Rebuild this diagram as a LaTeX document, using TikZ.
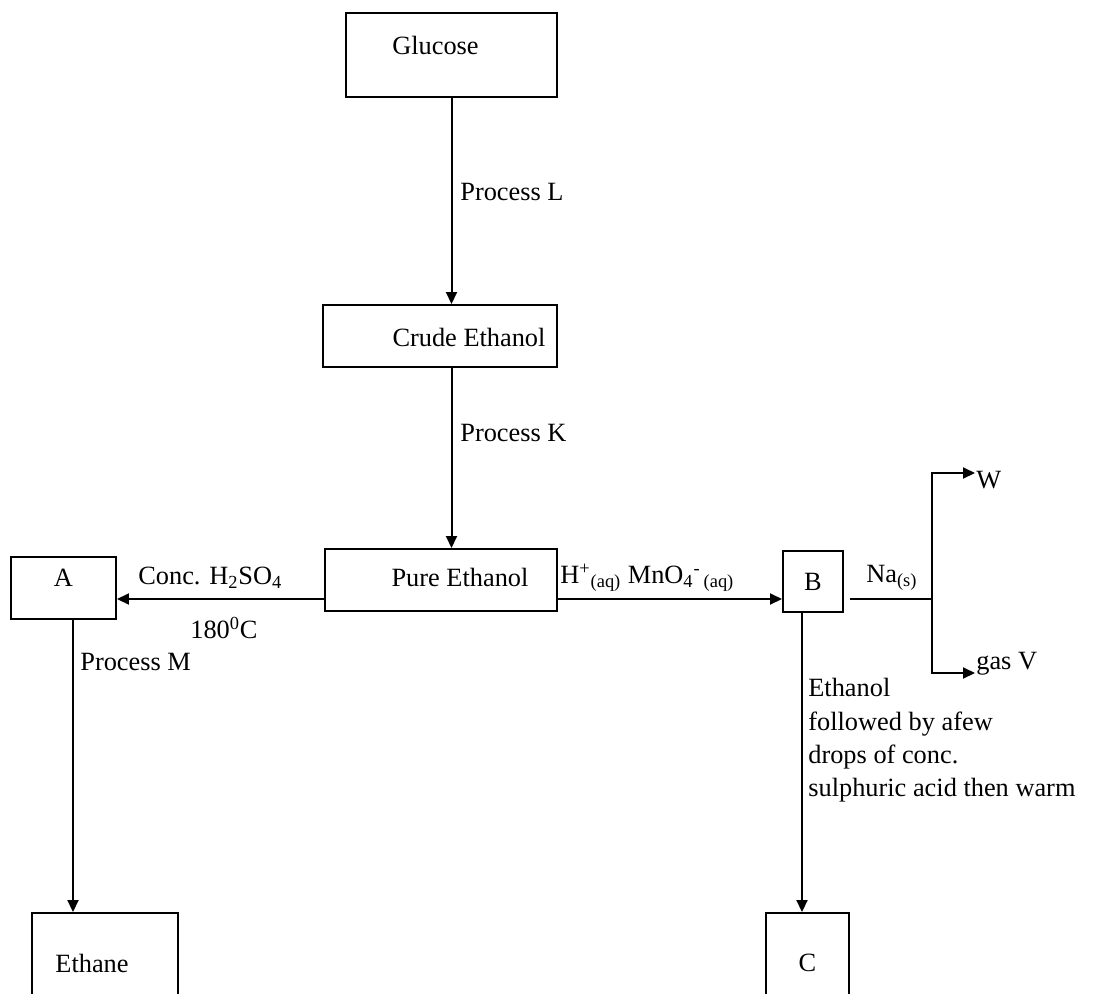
\documentclass[tikz,border=0pt]{standalone}
\usepackage{fontspec}
\setmainfont{Liberation Serif}
\usetikzlibrary{arrows.meta}

\tikzset{
  box/.style={draw, line width=0.04cm, inner sep=0pt},
  flow/.style={line width=0.04cm, -{Triangle[length=0.24cm,width=0.22cm]}},
  plain/.style={line width=0.04cm},
  lbl/.style={anchor=west, inner sep=0pt}
}

\begin{document}
\begin{tikzpicture}[x=0.02cm, y=-0.02cm, font=\fontsize{15}{19}\selectfont]
 \useasboundingbox (0,0) rectangle (1093,994);
 % boxes
 \node[box, minimum width=4.22cm, minimum height=1.68cm,
   label={[xshift=-0.32cm, yshift=0.2cm]center:Glucose}] (glucose) at (451.5,55) {};
 \node[box, minimum width=4.68cm, minimum height=1.24cm,
   label={[xshift=0.58cm, yshift=-0.02cm]center:Crude Ethanol}] (crude) at (440,336) {};
 \node[box, minimum width=4.64cm, minimum height=1.24cm,
   label={[xshift=0.38cm, yshift=0.06cm]center:Pure Ethanol}] (pure) at (441,580) {};
 \node[box, minimum width=2.1cm, minimum height=1.24cm,
   label={[yshift=0.2cm]center:A}] (A) at (63.5,588) {};
 \node[box, minimum width=1.2cm, minimum height=1.22cm] (B) at (813,581.5) {B};
 \node[box, minimum width=2.92cm, minimum height=2cm,
   label={[xshift=-0.26cm]center:Ethane}] (ethane) at (105,963) {};
 \node[box, minimum width=1.66cm, minimum height=2cm] (C) at (807.5,963) {C};
 % helper coordinates
 \coordinate (lvl) at (0,599);
 \coordinate (acol) at (73,0);
 \coordinate (bcol) at (802,0);
 \coordinate (nastart) at (850,599);
 \coordinate (fork) at (932,599);
 \coordinate (wtip) at (975,473);
 \coordinate (vtip) at (975,673);
 % arrows
 \draw[flow] (glucose.south) -- (glucose.south |- crude.north);
 \draw[flow] (glucose.south |- crude.south) -- (glucose.south |- pure.north);
 \draw[flow] (pure.west |- lvl) -- (A.east |- lvl);
 \draw[flow] (pure.east |- lvl) -- (B.west |- lvl);
 \draw[plain] (nastart) -- (fork);
 \draw[flow] (fork) |- (wtip);
 \draw[flow] (fork) |- (vtip);
 \draw[flow] (A.south -| acol) -- (ethane.north -| acol);
 \draw[flow] (B.south -| bcol) -- (C.north -| bcol);
 % labels
 \node[lbl] (procL) at (460,192) {Process L};
 \node[lbl] (procK) at (460,433) {Process K};
 \node[lbl] (acid) at (138,578) {Conc. H\textsubscript{2}SO\textsubscript{4}};
 \node[lbl] (temp) at (190,628) {180\textsuperscript{0}C};
 \node[lbl] (oxid) at (560,578) {H\textsuperscript{+}\textsubscript{(aq)}\ MnO\textsubscript{4}\textsuperscript{-}\textsubscript{\,(aq)}};
 \node[lbl] (na) at (866,578) {Na\textsubscript{(s)}};
 \node[lbl] (W) at (976,480) {W};
 \node[lbl] (gasV) at (976,664) {gas V};
 \node[lbl] (procM) at (80,662) {Process M};
 \node[lbl, anchor=north west, align=left] (ester) at (808,678)
   {Ethanol\\followed by afew\\drops of conc.\\sulphuric acid then warm};
\end{tikzpicture}
\end{document}
